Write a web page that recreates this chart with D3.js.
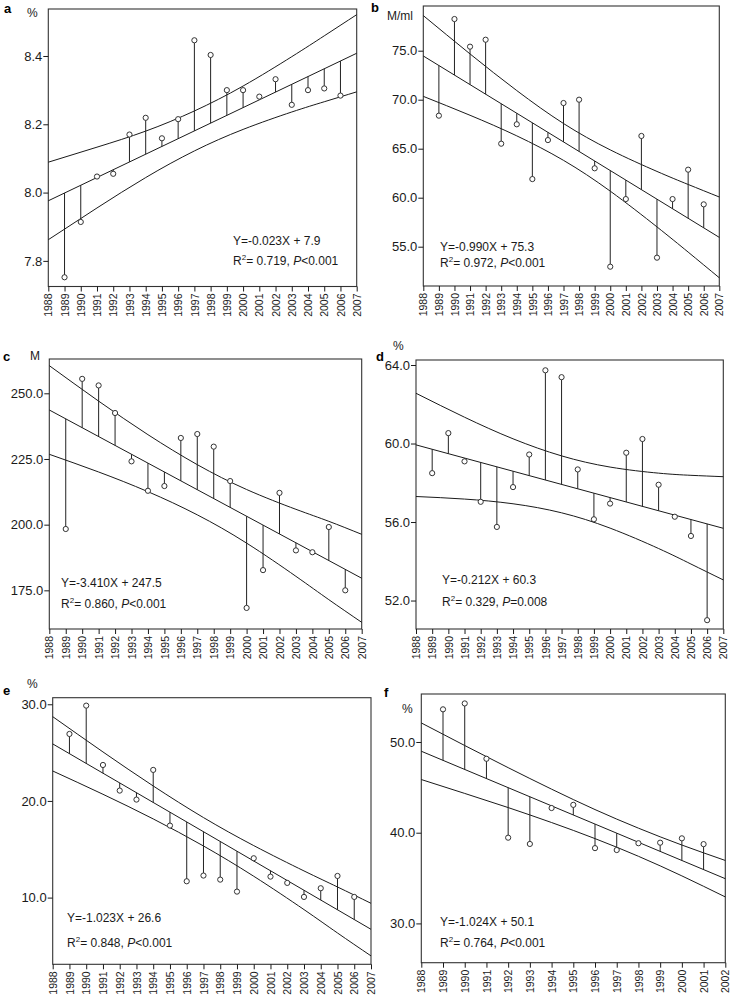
<!DOCTYPE html>
<html><head><meta charset="utf-8">
<script src="https://cdn.jsdelivr.net/npm/d3@7"></script>
<style>
html,body{margin:0;padding:0;background:#fff;}
svg{display:block;font-family:"Liberation Sans",Arial,sans-serif;}
</style></head>
<body><svg id="chart" width="731" height="995"></svg>
<script>
// ---------- data ----------
const yearsFull = [1989,1990,1991,1992,1993,1994,1995,1996,1997,1998,1999,2000,2001,2002,2003,2004,2005,2006];
const yearsF = [1989,1990,1991,1992,1993,1994,1995,1996,1997,1998,1999,2000,2001];
const tickYearsFull = [1988,1989,1990,1991,1992,1993,1994,1995,1996,1997,1998,1999,2000,2001,2002,2003,2004,2005,2006,2007];
const tickYearsF = [1988,1989,1990,1991,1992,1993,1994,1995,1996,1997,1998,1999,2000,2001,2002];
const bandYears = [1988,1991,1994,1997,2000,2003,2005,2007];
const bandYearsF = [1988,1990,1992,1994,1996,1998,2000,2002];

const valuesA = [7.752,7.914,8.047,8.055,8.170,8.219,8.159,8.215,8.446,8.403,8.300,8.300,8.281,8.332,8.257,8.300,8.305,8.284];
const fitA = [7.976, 8.408];
const upperA = [8.089,8.133,8.180,8.239,8.312,8.398,8.459,8.521];
const lowerA = [7.862,7.955,8.044,8.122,8.185,8.236,8.266,8.295];
const ticksA = [7.8,8.0,8.2,8.4];

const valuesB = [68.37,78.23,75.41,76.12,65.51,67.49,61.9,65.88,69.66,70.0,63.0,52.96,59.86,66.3,53.88,59.86,62.86,59.32];
const fitB = [74.46, 55.95];
const upperB = [78.58,74.67,70.93,67.57,64.88,62.68,61.35,60.07];
const lowerB = [70.34,68.41,66.31,63.81,60.67,57.02,54.45,51.83];
const ticksB = [55,60,65,70,75];

const valuesC = [198.35,255.5,253.0,242.5,224.1,212.9,214.7,233.0,234.5,229.7,216.6,168.3,182.7,212.1,190.2,189.5,199.1,175.0];
const fitC = [243.65, 179.6];
const upperC = [260.53,247.02,234.26,222.84,213.38,205.84,201.27,196.32];
const lowerC = [226.78,220.05,212.56,203.74,192.97,180.33,171.45,162.82];
const ticksC = [175,200,225,250];

const valuesD = [58.49,60.53,59.09,57.03,55.75,57.78,59.44,63.73,63.38,58.68,56.14,56.94,59.53,60.23,57.90,56.27,55.29,51.0];
const fitD = [59.93, 55.68];
const upperD = [62.56,61.34,60.24,59.37,58.80,58.49,58.38,58.31];
const lowerD = [57.30,57.17,56.93,56.47,55.69,54.65,53.86,53.05];
const ticksD = [52,56,60,64];

const valuesE = [26.93,29.86,23.72,21.07,20.14,23.21,17.45,11.69,12.28,11.86,10.62,14.07,12.17,11.52,10.07,10.97,12.24,10.07];
const fitE = [25.9, 6.72];
const upperE = [28.72,25.07,21.55,18.28,15.38,12.76,11.10,9.41];
const lowerE = [23.10,20.69,18.14,15.34,12.21,8.76,6.34,3.97];
const ticksE = [10,20,30];

const valuesF = [53.6,54.25,48.15,39.45,38.76,42.72,43.07,38.3,38.09,38.84,38.9,39.38,38.74];
const fitF = [48.98, 34.93];
const upperF = [52.10,49.61,47.17,44.80,42.55,40.50,38.64,36.94];
const lowerF = [45.86,44.33,42.77,41.12,39.35,37.40,35.24,32.92];
const ticksF = [30,40,50];

const panels = [
  {letter:"a", unit:"%", years:yearsFull, vals:valuesA, fit:fitA, bandX:bandYears, up:upperA, lo:lowerA, ticks:ticksA, xTicks:tickYearsFull,
   eq:"Y=-0.023X + 7.9", r2:"0.719", p:"<0.001",
   box:[48.3,356.7,9,286.5], ydom:[7.725,8.5376], lp:[4,13], up2:[27,17], eqp:[233,245,265]},
  {letter:"b", unit:"M/ml", years:yearsFull, vals:valuesB, fit:fitB, bandX:bandYears, up:upperB, lo:lowerB, ticks:ticksB, xTicks:tickYearsFull,
   eq:"Y=-0.990X + 75.3", r2:"0.972", p:"<0.001",
   box:[423.3,719.3,6,286], ydom:[50.99,79.56], lp:[371,12], up2:[387,20], eqp:[440,251,267]},
  {letter:"c", unit:"M", years:yearsFull, vals:valuesC, fit:fitC, bandX:bandYears, up:upperC, lo:lowerC, ticks:ticksC, xTicks:tickYearsFull,
   eq:"Y=-3.410X + 247.5", r2:"0.860", p:"<0.001",
   box:[49.3,361.7,359,629], ydom:[160.28,263.06], lp:[3,361], up2:[30,360], eqp:[61,587,608]},
  {letter:"d", unit:"%", years:yearsFull, vals:valuesD, fit:fitD, bandX:bandYears, up:upperD, lo:lowerD, ticks:ticksD, xTicks:tickYearsFull,
   eq:"Y=-0.212X + 60.3", r2:"0.329", p:"=0.008",
   box:[416,723.3,360,629], ydom:[50.55,64.255], lp:[376,361], up2:[393,350], eqp:[442,584,606]},
  {letter:"e", unit:"%", years:yearsFull, vals:valuesE, fit:fitE, bandX:bandYears, up:upperE, lo:lowerE, ticks:ticksE, xTicks:tickYearsFull,
   eq:"Y=-1.023X + 26.6", r2:"0.848", p:"<0.001",
   box:[52.7,371,697.7,964.3], ydom:[3.1,30.68], lp:[3,695], up2:[27,688], eqp:[67,922,947]},
  {letter:"f", unit:"%", years:yearsF, vals:valuesF, fit:fitF, bandX:bandYearsF, up:upperF, lo:lowerF, ticks:ticksF, xTicks:tickYearsF,
   eq:"Y=-1.024X + 50.1", r2:"0.764", p:"<0.001",
   box:[421.3,725.3,694,962.7], ydom:[25.67,55.29], lp:[384,697], up2:[402,713], eqp:[440,926,947]}
];

const svg = d3.select("#chart");
const ink = "#1a1a1a";

panels.forEach(P => {
  const [x0,x1,y0,y1] = P.box;
  const xd = [P.xTicks[0], P.xTicks[P.xTicks.length-1]];
  const x = d3.scaleLinear().domain(xd).range([x0,x1]);
  const y = d3.scaleLinear().domain(P.ydom).range([y1,y0]);
  const fitScale = d3.scaleLinear().domain(xd).range(P.fit);
  const g = svg.append("g");

  // frame
  g.append("rect").attr("x",x0).attr("y",y0).attr("width",x1-x0).attr("height",y1-y0)
    .attr("fill","none").attr("stroke","#333").attr("stroke-width",1.1);

  // y axis
  const ya = d3.axisLeft(y).tickValues(P.ticks).tickFormat(d3.format(".1f")).tickSize(5).tickPadding(1);
  const yg = g.append("g").attr("transform",`translate(${x0},0)`).call(ya);
  yg.select(".domain").remove();
  yg.selectAll("line").attr("stroke",ink);
  yg.selectAll("text").attr("font-size",13).attr("fill",ink).attr("font-family","Liberation Sans, Arial, sans-serif");

  // x axis
  const xa = d3.axisBottom(x).tickValues(P.xTicks).tickFormat(d3.format("d")).tickSize(5);
  const xg = g.append("g").attr("transform",`translate(0,${y1})`).call(xa);
  xg.select(".domain").remove();
  xg.selectAll("line").attr("stroke",ink);
  xg.selectAll("text").attr("font-size",10.5).attr("fill",ink).attr("font-family","Liberation Sans, Arial, sans-serif")
    .attr("transform","rotate(-90)").attr("text-anchor","end").attr("x",-7).attr("y",0).attr("dy","0.35em");

  // bands
  const bandLine = d3.line().x(d=>x(d[0])).y(d=>y(d[1])).curve(d3.curveNatural);
  g.append("path").attr("d",bandLine(P.bandX.map((v,i)=>[v,P.up[i]]))).attr("fill","none").attr("stroke",ink).attr("stroke-width",1);
  g.append("path").attr("d",bandLine(P.bandX.map((v,i)=>[v,P.lo[i]]))).attr("fill","none").attr("stroke",ink).attr("stroke-width",1);
  // fit
  g.append("line").attr("x1",x(xd[0])).attr("y1",y(P.fit[0])).attr("x2",x(xd[1])).attr("y2",y(P.fit[1]))
    .attr("stroke",ink).attr("stroke-width",1);

  // residuals
  g.selectAll(".res").data(P.years).enter().append("line")
    .attr("x1",d=>x(d)).attr("x2",d=>x(d))
    .attr("y1",(d,i)=>y(P.vals[i])).attr("y2",d=>y(fitScale(d)))
    .attr("stroke","#222").attr("stroke-width",1);
  // points
  g.selectAll(".pt").data(P.years).enter().append("circle")
    .attr("cx",d=>x(d)).attr("cy",(d,i)=>y(P.vals[i])).attr("r",2.6)
    .attr("fill","#fff").attr("stroke","#333").attr("stroke-width",1);

  // labels
  g.append("text").attr("x",P.lp[0]).attr("y",P.lp[1]).attr("font-size",13).attr("font-weight","bold").attr("fill","#000").text(P.letter);
  g.append("text").attr("x",P.up2[0]).attr("y",P.up2[1]).attr("font-size",12).attr("fill",ink).text(P.unit);

  g.append("text").attr("x",P.eqp[0]).attr("y",P.eqp[1]).attr("font-size",12).attr("fill",ink).text(P.eq);
  const t = g.append("text").attr("x",P.eqp[0]).attr("y",P.eqp[2]).attr("font-size",12).attr("fill",ink);
  t.append("tspan").text("R");
  t.append("tspan").attr("font-size",8).attr("dy",-5).text("2");
  t.append("tspan").attr("dy",5).text("= " + P.r2 + ", ");
  t.append("tspan").attr("font-style","italic").text("P");
  t.append("tspan").text(P.p);
});
</script>
</body></html>
